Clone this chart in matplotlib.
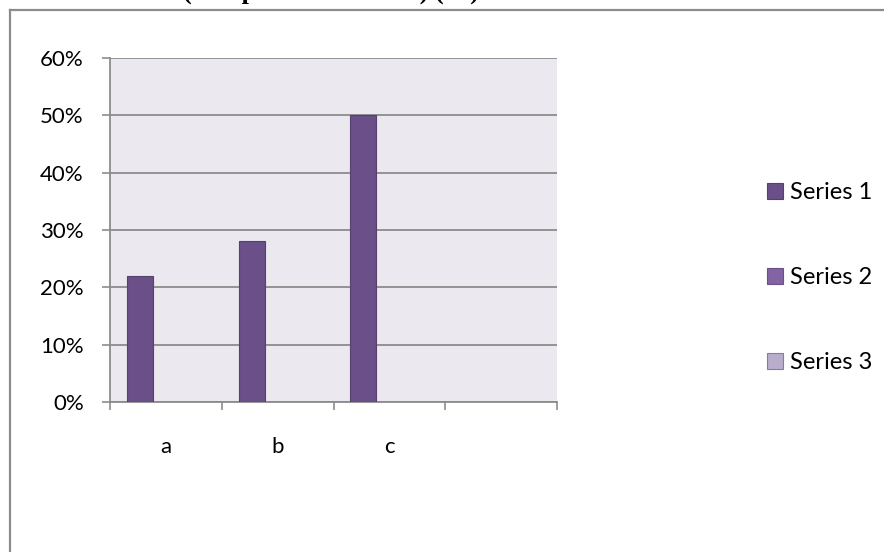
import matplotlib
matplotlib.use("Agg")
import matplotlib.pyplot as plt
from matplotlib.lines import Line2D
import numpy as np

categories = ["a", "b", "c", ""]
series1 = [0.22, 0.28, 0.50, np.nan]
series2 = [np.nan, np.nan, np.nan, np.nan]
series3 = [np.nan, np.nan, np.nan, np.nan]
series_names = ["Series 1", "Series 2", "Series 3"]
y_ticks = [0.0, 0.1, 0.2, 0.3, 0.4, 0.5, 0.6]
y_labels = ["0%", "10%", "20%", "30%", "40%", "50%", "60%"]
title_text = "(Sample Distribution) (%)"

colors = ["#6a4f89", "#8264a4", "#b8aecb"]
edges = ["#56406f", "#6a5088", "#8a7aa3"]

W, H = 884, 552
plt.rcParams['font.family'] = ['Lato', 'DejaVu Sans']
fig = plt.figure(figsize=(W / 100, H / 100), dpi=100)

# outer frame (extends beyond right and bottom edges)
frame_kw = dict(color="#8c8c8c", lw=1.6, transform=fig.transFigure)
fig.add_artist(Line2D([9.5 / W, 1.01], [1 - 9.5 / H, 1 - 9.5 / H], **frame_kw))
fig.add_artist(Line2D([9.5 / W, 9.5 / W], [1 - 9.5 / H, -0.01], **frame_kw))

# cut-off title at top
fig.text(183 / W, 1 + 1.5 / H, title_text, ha="left", va="baseline",
         fontsize=19, fontweight="bold", family=["Liberation Serif", "DejaVu Serif"])

left, right, top, bottom = 110, 557, 58, 402
ax = fig.add_axes([left / W, (H - bottom) / H, (right - left) / W, (bottom - top) / H])
ax.set_facecolor("#ebe8ef")

x = np.arange(len(categories))
bw = 0.232
for i, (vals, name) in enumerate(zip([series1, series2, series3], series_names)):
    ax.bar(x + (i - 1) * bw, vals, width=bw, color=colors[i], edgecolor=edges[i],
           linewidth=0.8, label=name, zorder=3)

ax.set_xlim(-0.5, len(categories) - 0.5)
ax.set_ylim(0, 0.6)
ax.set_yticks(y_ticks)
ax.set_yticklabels(y_labels)
ax.set_xticks(x)
ax.set_xticklabels(categories)
ax.set_xticks(np.arange(-0.5, len(categories), 1.0), minor=True)
ax.tick_params(axis="x", which="major", length=0, pad=25, labelsize=16)
ax.tick_params(axis="x", which="minor", length=5.8, width=1.2, color="#8c8c8c", direction="out")
ax.tick_params(axis="y", length=5.8, width=1.2, color="#8c8c8c", labelsize=16, pad=13)

ax.grid(axis="y", color="#8c8c8c", linewidth=1.3, zorder=1)
ax.set_axisbelow(True)
for s in ["top", "right"]:
    ax.spines[s].set_visible(False)
for s in ["left", "bottom"]:
    ax.spines[s].set_color("#8c8c8c")
    ax.spines[s].set_linewidth(1.3)

leg = fig.legend(loc="upper left", bbox_to_anchor=(767 / W, 1 - 182 / H),
                 frameon=False, fontsize=17, labelspacing=2.72,
                 handlelength=0.68, handleheight=0.68, handletextpad=0.3,
                 borderpad=0, borderaxespad=0)

fig.savefig("out.png", dpi=100)
